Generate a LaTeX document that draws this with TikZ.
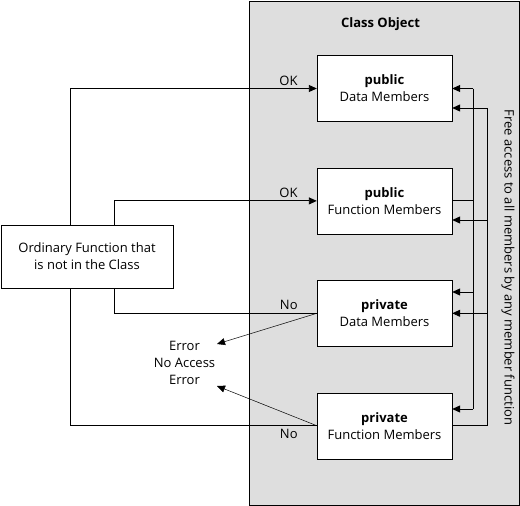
\documentclass[tikz,border=0pt]{standalone}
\usepackage{fontspec}
\setmainfont{Open Sans}
\usetikzlibrary{arrows.meta, positioning}

\begin{document}
\begin{tikzpicture}[x=1pt, y=-1pt, font=\fontsize{13}{17}\selectfont, >={Triangle[length=8pt, width=7pt]},
                    member/.style={draw, fill=white, minimum width=135pt, minimum height=66pt, align=center, inner sep=0pt},
                    link/.style={line width=0.9pt},
                    fail/.style={line width=0.5pt}]
                    \useasboundingbox (0,0) rectangle (520,506);
                    \draw[fill=black!13, line width=0.9pt] (249.5,1) rectangle (519,505);
                    \node[font=\fontsize{13}{14}\selectfont\bfseries](title) at (380.5,24){Class Object};

                    \node[member](pubdata) at (384.5,88.5){\textbf{public}\\Data Members};
                    \node[member, below=46pt of pubdata](pubfunc){\textbf{public}\\Function Members};
                    \node[member, below=46pt of pubfunc](privdata){\textbf{private}\\Data Members};
                    \node[member, below=46pt of privdata](privfunc){\textbf{private}\\Function Members};

                    \node[draw, fill=white, minimum width=172pt, minimum height=63pt, align=center, inner sep=0pt](ordinary) at (87,256.5){Ordinary Function that\\is not in the Class};
                    \node[align=center, inner sep=0pt](error) at (184.5,363){Error\\No Access\\Error};

                    \node[above left=3pt and 19pt of pubdata.west, inner sep=0pt](ok1){OK};
                    \node[above left=3pt and 19pt of pubfunc.west, inner sep=0pt](ok2){OK};
                    \node[above left=3pt and 19pt of privdata.west, inner sep=0pt](no1){No};
                    \node[below left=3pt and 19pt of privfunc.west, inner sep=0pt](no2){No};

                    \coordinate (outer) at (70,0);
                    \coordinate (inner) at (114,0);
                    \draw[link, ->] (ordinary.north -| outer) |- (pubdata.west);
                    \draw[link, ->] (ordinary.north -| inner) |- (pubfunc.west);
                    \draw[link] (ordinary.south -| inner) |- (privdata.west);
                    \draw[link] (ordinary.south -| outer) |- (privfunc.west);

                    \coordinate (err1) at (217,344);
                    \coordinate (err2) at (217,386);
                    \draw[fail, ->] (privdata.west) -- (err1);
                    \draw[fail, ->] (privfunc.west) -- (err2);

                    \coordinate (bus1) at (473,0);
                    \coordinate (bus2) at (487,0);
                    \draw[link] (pubfunc.east) -- (pubfunc.east -| bus1);
                    \draw[link] (bus1 |- pubdata.east) -- (bus1 |- 0,409);
                    \draw[link, ->] (bus1 |- pubdata.east) -- (pubdata.east);
                    \draw[link, ->] (bus1 |- 0,292) -- (privdata.east |- 0,292);
                    \draw[link, ->] (bus1 |- 0,409) -- (privfunc.east |- 0,409);
                    \draw[link] (privfunc.east) -- (privfunc.east -| bus2);
                    \draw[link] (bus2 |- 0,108) -- (bus2 |- privfunc.east);
                    \draw[link, ->] (bus2 |- 0,108) -- (pubdata.east |- 0,108);
                    \draw[link, ->] (bus2 |- 0,220) -- (pubfunc.east |- 0,220);
                    \draw[link, ->] (bus2 |- privdata.east) -- (privdata.east);

                    \node[rotate=-90](access) at (508,267.5){Free access to all members by any member function};
                \end{tikzpicture}
\end{document}
